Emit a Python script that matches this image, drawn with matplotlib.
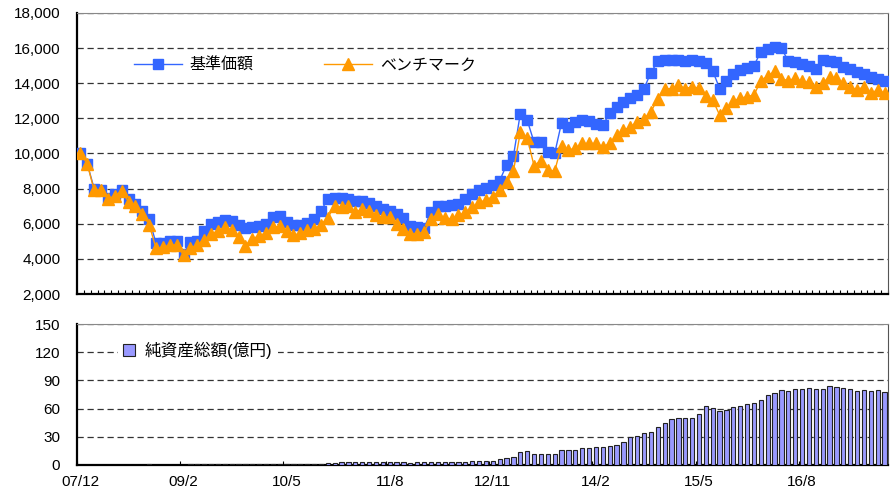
import numpy as np
import matplotlib
matplotlib.use('Agg')
import matplotlib.pyplot as plt
from matplotlib.ticker import FuncFormatter

plt.rcParams['font.family'] = ['Liberation Sans', 'Noto Sans CJK JP', 'DejaVu Sans']

# 基準価額 (fund NAV), monthly, 07/12 ... 17/8
nav = [10000, 9400, 8000, 7950, 7450, 7700, 7950, 7400, 7150, 6750,
       6250, 4900, 4900, 5000, 5000, 4300, 4950, 5000, 5600, 6000,
       6100, 6200, 6150, 5950, 5750, 5800, 5850, 6000, 6400, 6420,
       6100, 5950, 5950, 6050, 6280, 6750, 7400, 7450, 7450, 7400,
       7300, 7300, 7200, 7030, 6840, 6750, 6560, 6320, 5900, 5800,
       5750, 6690, 7030, 7000, 7070, 7120, 7400, 7680, 7930, 8050,
       8200, 8450, 9350, 9850, 12270, 11900, 10650, 10650, 10100, 10000,
       11750, 11500, 11800, 11900, 11850, 11700, 11600, 12300, 12650, 12950,
       13150, 13350, 13700, 14600, 15250, 15300, 15350, 15300, 15250, 15350,
       15250, 15150, 14700, 13700, 14100, 14500, 14760, 14860, 15000, 15800,
       15950, 16050, 16000, 15250, 15200, 15100, 15000, 14800, 15300, 15250,
       15200, 14950, 14800, 14650, 14550, 14350, 14250, 14100]

# ベンチマーク
bench = [10000, 9400, 7900, 7900, 7400, 7600, 7850, 7250, 7000, 6550,
         5950, 4600, 4650, 4800, 4800, 4200, 4600, 4800, 5100, 5400,
         5600, 5800, 5650, 5250, 4750, 5150, 5300, 5500, 5800, 5850,
         5600, 5350, 5450, 5630, 5700, 5950, 6350, 7030, 6930, 7030,
         6650, 6840, 6750, 6470, 6370, 6370, 6000, 5720, 5440, 5440,
         5530, 6280, 6560, 6320, 6280, 6470, 6650, 6930, 7210, 7350,
         7550, 7900, 8350, 9000, 11200, 10900, 9300, 9600, 9050, 9000,
         10450, 10200, 10300, 10570, 10570, 10570, 10380, 10570, 11040, 11320,
         11510, 11800, 11990, 12370, 13120, 13690, 13690, 13880, 13690, 13800,
         13710, 13250, 13050, 12190, 12600, 13000, 13140, 13240, 13330, 14150,
         14430, 14670, 14250, 14150, 14290, 14100, 14050, 13810, 14000, 14380,
         14290, 14000, 13810, 13620, 13810, 13430, 13620, 13430]

# 純資産総額(億円)
assets = [0, 0, 0, 0, 0, 0, 0, 0, 0, 0,
          1.0, 0, 0, 0, 0, 0, 0.7, 0.7, 0.7, 0.7,
          0.7, 0.7, 0.7, 0.7, 0.7, 0.7, 0.7, 0.7, 0.7, 0.8,
          0.8, 0.8, 0.8, 0.8, 0.8, 0.8, 1.8, 1.8, 3.3, 3.4,
          3.4, 3.4, 3.4, 3.3, 3.4, 3.4, 3.4, 3.3, 2.6, 3.3,
          3.3, 3.4, 3.4, 3.5, 3.5, 3.6, 3.6, 3.8, 4.6, 4.6,
          4.6, 6.0, 7.0, 9.0, 14.3, 15.4, 11.8, 11.8, 11.8, 11.8,
          15.7, 15.7, 15.7, 18.6, 18.6, 19.6, 19.6, 20.7, 21.8, 25.0,
          29.3, 31.0, 33.6, 35.3, 40.3, 44.6, 48.9, 50.0, 50.0, 50.0,
          54.0, 62.5, 60.7, 57.5, 59.0, 62.0, 63.0, 65.0, 65.7, 69.6,
          74.3, 77.0, 79.6, 78.2, 80.7, 80.7, 81.8, 80.7, 80.7, 84.3,
          82.8, 82.0, 80.7, 78.2, 79.6, 78.2, 79.5, 78.0]

tick_pos = [0, 15, 30, 45, 60, 75, 90, 105]
tick_labels = ['07/12', '09/2', '10/5', '11/8', '12/11', '14/2', '15/5', '16/8']

x = np.arange(len(nav))
W, H = 896, 488
fig = plt.figure(figsize=(W / 100, H / 100), dpi=100)
ax1 = fig.add_axes([77 / W, 1 - 294 / H, 811 / W, 281 / H])
ax2 = fig.add_axes([77 / W, 1 - 465 / H, 811 / W, 141 / H])

grid_kw = dict(color='#333333', lw=0.9, ls=(0, (5, 3)))

# --- top: NAV vs benchmark
ax1.plot(x, nav, color='#3366ff', marker='s', ms=7, lw=1, label='基準価額', zorder=3)
ax1.plot(x, bench, color='#ff9900', marker='^', ms=9, lw=1, label='ベンチマーク', zorder=4)
ax1.set_ylim(2000, 18000)
ax1.set_yticks(range(2000, 18001, 2000))
ax1.yaxis.set_major_formatter(FuncFormatter(lambda v, p: f'{v:,.0f}'))
for v in range(4000, 18001, 2000):
    ax1.axhline(v, zorder=1, **grid_kw)
ax1.set_xlim(-0.5, len(x) - 0.5)
ax1.set_xticks(np.arange(-0.5, len(x), 1))
ax1.set_xticklabels([])
ax1.tick_params(axis='x', direction='in', length=3, width=0.8)
ax1.tick_params(axis='y', length=0, pad=12, labelsize=11)
ax1.legend(loc='center left', bbox_to_anchor=(0.07, 0.815), ncol=2, frameon=False,
           borderpad=0, borderaxespad=0, handlelength=3.0, handletextpad=0.5,
           columnspacing=4.4, prop={'size': 11.5})

# --- bottom: net assets
ax2.bar(x, assets, width=0.62, color='#9999ff', edgecolor='#222222', lw=0.8,
        label='純資産総額(億円)', zorder=3)
ax2.set_ylim(0, 150)
ax2.set_yticks(range(0, 151, 30))
for v in range(30, 151, 30):
    ax2.axhline(v, zorder=1, **grid_kw)
ax2.set_xlim(-0.5, len(x) - 0.5)
ax2.set_xticks(tick_pos)
ax2.set_xticklabels(tick_labels)
ax2.set_xticks(np.arange(-0.5, len(x), 15), minor=True)
ax2.tick_params(axis='x', which='major', length=0, pad=7, labelsize=11)
ax2.tick_params(axis='x', which='minor', direction='in', length=3, width=0.8)
ax2.tick_params(axis='y', length=0, pad=12, labelsize=11)
leg = ax2.legend(loc='center left', bbox_to_anchor=(0.05, 0.815), frameon=True,
                 facecolor='white', edgecolor='none', framealpha=1, fancybox=False,
                 borderpad=0.3, borderaxespad=0, handlelength=0.75, handleheight=0.75,
                 handletextpad=0.6, prop={'size': 12})
leg.set_zorder(5)

for ax in (ax1, ax2):
    ax.spines['left'].set_linewidth(1.6)
    ax.spines['bottom'].set_linewidth(1.6)
    ax.spines['right'].set_color('#555555')
    ax.spines['top'].set_color('#888888')
    ax.spines['top'].set_linewidth(0.8)
    ax.set_axisbelow(True)

fig.savefig('out.png', dpi=100)
